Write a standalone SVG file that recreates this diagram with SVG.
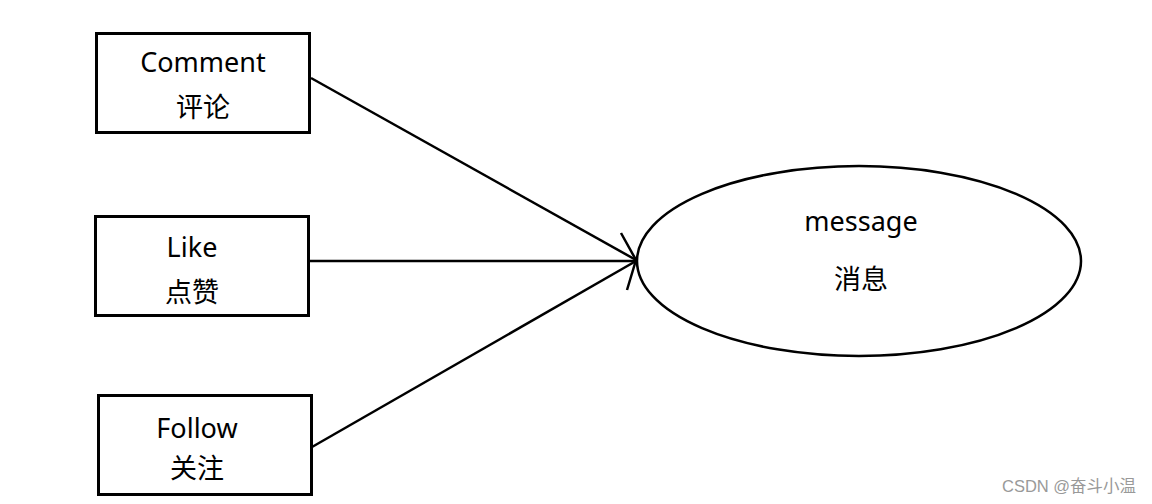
<svg xmlns="http://www.w3.org/2000/svg" width="1152" height="504" viewBox="0 0 1152 504">
<style>
.box{fill:#fff;stroke:#000;stroke-width:3}
.ell{fill:#fff;stroke:#000;stroke-width:2.5}
.t{font-family:"Noto Sans","Noto Sans CJK SC",sans-serif;font-size:27px;fill:#000;text-anchor:middle}
.c{stroke:#000;stroke-width:2.5;fill:none}
.wm{font-family:"Liberation Sans","Noto Sans CJK SC",sans-serif;font-size:16.5px;fill:#999}
</style>
<rect width="1152" height="504" fill="#fff"/>
<g id="connectors">
<line class="c" x1="311" y1="78" x2="636" y2="260"/>
<line class="c" x1="310" y1="261" x2="636" y2="261"/>
<line class="c" x1="312" y1="447" x2="636" y2="261"/>
<path class="c" d="M621,233 L636,260 L627,290"/>
</g>
<g id="comment">
<rect class="box" x="96.5" y="33.5" width="213" height="99"/>
<text class="t" x="203" y="72">Comment</text>
<text class="t" x="203" y="117">评论</text>
</g>
<g id="like">
<rect class="box" x="95.5" y="216.5" width="213" height="99"/>
<text class="t" x="192" y="257">Like</text>
<text class="t" x="192" y="302">点赞</text>
</g>
<g id="follow">
<rect class="box" x="98.5" y="395.5" width="213" height="99"/>
<text class="t" x="197" y="438">Follow</text>
<text class="t" x="197" y="478">关注</text>
</g>
<g id="message">
<ellipse class="ell" cx="859" cy="261" rx="222" ry="95"/>
<text class="t" x="861" y="231">message</text>
<text class="t" x="861" y="289">消息</text>
</g>
<text class="wm" x="1002" y="492">CSDN @奋斗小温</text>
</svg>
